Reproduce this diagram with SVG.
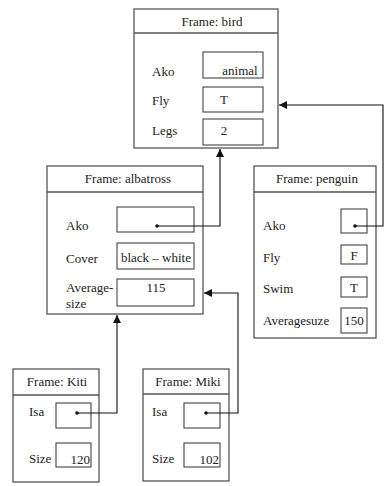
<svg xmlns="http://www.w3.org/2000/svg" width="388" height="486" viewBox="0 0 388 486">
<style>
.frame{fill:#fff;stroke:#555;stroke-width:1.3}
.slot{fill:#fff;stroke:#444;stroke-width:1.1}
.t{font-family:"Liberation Serif","Times New Roman",serif;font-size:13px;fill:#222}
.c{text-anchor:middle}
.e{text-anchor:end}
.conn{fill:none;stroke:#111;stroke-width:1.1}
</style>
<defs>
<marker id="ah" viewBox="0 0 10 10" refX="10" refY="5" markerWidth="8" markerHeight="8" markerUnits="userSpaceOnUse" orient="auto">
<path d="M0,0 L10,5 L0,10 z" fill="#111"/>
</marker>
</defs>
<rect width="388" height="486" fill="#fff"/>

<g id="bird">
<rect class="frame" x="134" y="9" width="144" height="139"/>
<line class="frame" x1="134" y1="33" x2="278" y2="33"/>
<text class="t c" x="212" y="26">Frame: bird</text>
<text class="t" x="152" y="76">Ako</text>
<rect class="slot" x="203" y="52" width="60" height="26"/>
<text class="t c" x="240" y="75">animal</text>
<text class="t" x="152" y="105">Fly</text>
<rect class="slot" x="203" y="87" width="60" height="25"/>
<text class="t c" x="224" y="104">T</text>
<text class="t" x="152" y="135">Legs</text>
<rect class="slot" x="203" y="119" width="60" height="26"/>
<text class="t c" x="224" y="135">2</text>
</g>

<g id="albatross">
<rect class="frame" x="47" y="166" width="156" height="148"/>
<line class="frame" x1="47" y1="192" x2="203" y2="192"/>
<text class="t c" x="128" y="183">Frame: albatross</text>
<text class="t" x="66" y="230">Ako</text>
<rect class="slot" x="117" y="207" width="77" height="25"/>
<text class="t" x="66" y="263">Cover</text>
<rect class="slot" x="117" y="243" width="77" height="26"/>
<text class="t c" x="156" y="262">black – white</text>
<text class="t" x="66" y="292">Average-</text>
<text class="t" x="66" y="308">size</text>
<rect class="slot" x="117" y="279" width="77" height="27"/>
<text class="t c" x="156" y="292">115</text>
</g>

<g id="penguin">
<rect class="frame" x="254" y="166" width="122" height="172"/>
<line class="frame" x1="254" y1="192" x2="376" y2="192"/>
<text class="t c" x="317" y="183">Frame: penguin</text>
<text class="t" x="263" y="230">Ako</text>
<rect class="slot" x="341" y="209" width="26" height="24"/>
<text class="t" x="263" y="262">Fly</text>
<rect class="slot" x="341" y="245" width="26" height="19"/>
<text class="t c" x="354" y="260">F</text>
<text class="t" x="263" y="293">Swim</text>
<rect class="slot" x="341" y="277" width="26" height="20"/>
<text class="t c" x="354" y="292">T</text>
<text class="t" x="263" y="325">Averagesuze</text>
<rect class="slot" x="341" y="308" width="26" height="25"/>
<text class="t c" x="354" y="325">150</text>
</g>

<g id="kiti">
<rect class="frame" x="13" y="369" width="86" height="113"/>
<line class="frame" x1="13" y1="395" x2="99" y2="395"/>
<text class="t c" x="57" y="386">Frame: Kiti</text>
<text class="t" x="29" y="416">Isa</text>
<rect class="slot" x="56" y="403" width="35" height="25"/>
<text class="t" x="29" y="463">Size</text>
<rect class="slot" x="56" y="443" width="35" height="24"/>
<text class="t e" x="90" y="464">120</text>
</g>

<g id="miki">
<rect class="frame" x="143" y="369" width="86" height="112"/>
<line class="frame" x1="143" y1="394" x2="229" y2="394"/>
<text class="t c" x="188" y="386">Frame: Miki</text>
<text class="t" x="152" y="416">Isa</text>
<rect class="slot" x="184" y="403" width="36" height="25"/>
<text class="t" x="152" y="463">Size</text>
<rect class="slot" x="184" y="443" width="36" height="24"/>
<text class="t e" x="219" y="464">102</text>
</g>

<g id="connectors">
<circle cx="157" cy="226" r="1.8" fill="#111"/>
<polyline class="conn" points="157,226 220,226 220,149" marker-end="url(#ah)"/>
<circle cx="355" cy="226" r="1.8" fill="#111"/>
<polyline class="conn" points="355,226 383,226 383,105 279,105" marker-end="url(#ah)"/>
<circle cx="77" cy="413" r="1.8" fill="#111"/>
<polyline class="conn" points="77,413 117,413 117,315" marker-end="url(#ah)"/>
<circle cx="206" cy="413" r="1.8" fill="#111"/>
<polyline class="conn" points="206,413 238,413 238,293 204,293" marker-end="url(#ah)"/>
</g>
</svg>
